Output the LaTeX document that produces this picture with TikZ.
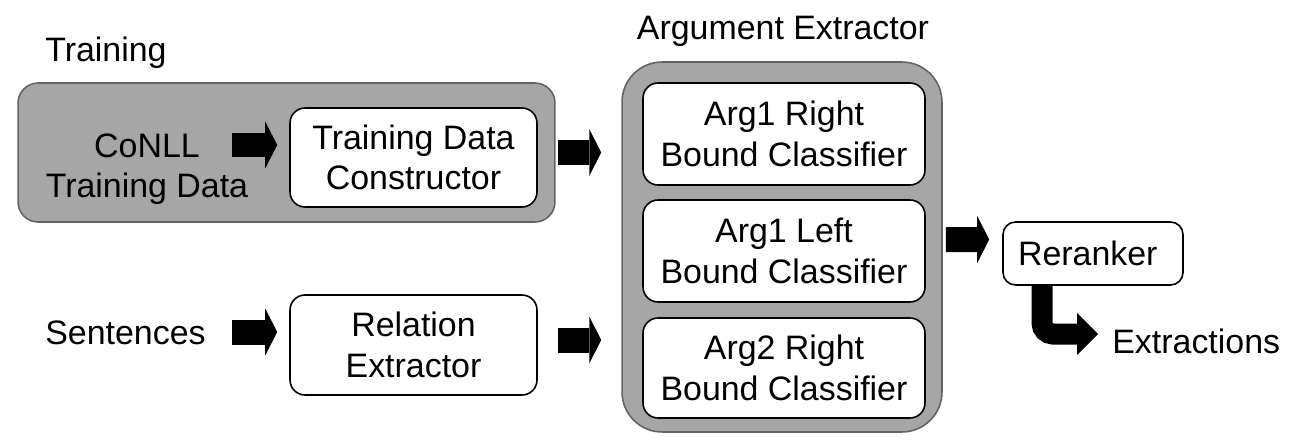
\documentclass[tikz,border=0pt]{standalone}
\usepackage{fontspec}
\setmainfont{Liberation Sans}
\usetikzlibrary{arrows.meta,calc}
\definecolor{boxgray}{RGB}{166,166,166}
\definecolor{edgegray}{RGB}{100,100,100}
\begin{document}
\begin{tikzpicture}[x=0.02cm,y=-0.02cm,
  every node/.style={font=\fontsize{19.3}{23}\selectfont, inner sep=0pt},
  group/.style={draw=edgegray, fill=boxgray, line width=0.9pt},
  wbox/.style={draw=black, fill=white, line width=0.9pt, rounded corners=0.3cm, align=center},
  lbl/.style={align=center},
  barrow/.style={line width=0.5cm, -{Triangle[length=0.24cm,width=0.94cm,line width=0pt]}},
  carrow/.style={line width=0.42cm, rounded corners=0.22cm, -{Triangle[length=0.42cm,width=0.84cm,line width=0pt]}}
]
\useasboundingbox (0,0) rectangle (1290,446);

% Training group
\node[anchor=base west] (trainlbl) at (45,62) {Training};
\node[group, rounded corners=0.4cm, minimum width=10.74cm, minimum height=2.78cm] (trainbox) at (286.5,152.5) {};
\node[lbl] (conll) at (147,169) {CoNLL\\Training Data};
\node[wbox, minimum width=4.94cm, minimum height=1.98cm] (tdc) at (413.5,157.5) {Training Data\\Constructor};

% Sentences row
\node[anchor=base west] (sent) at (45,344) {Sentences};
\node[wbox, minimum width=4.94cm, minimum height=2cm] (rel) at (413.5,345) {Relation\\Extractor};

% Argument extractor
\node[anchor=base] (aelbl) at (783,40) {Argument Extractor};
\node[group, rounded corners=0.8cm, minimum width=6.4cm, minimum height=7.4cm] (ae) at (782,247) {};
\node[wbox, minimum width=5.64cm, minimum height=2.04cm] (b1) at (784,134) {Arg1 Right\\Bound Classifier};
\node[wbox, minimum width=5.64cm, minimum height=2.04cm] (b2) at (784,251) {Arg1 Left\\Bound Classifier};
\node[wbox, minimum width=5.64cm, minimum height=2cm] (b3) at (784,368) {Arg2 Right\\Bound Classifier};

% Reranker and output
\node[draw=black, fill=white, line width=0.9pt, rounded corners=0.25cm, minimum width=3.6cm, minimum height=1.26cm, text width=3.0cm, inner xsep=0.3cm, align=left] (rr) at (1093,253.5) {Reranker};
\node[anchor=west] (ext) at (1112,341) {Extractions};

% Block arrows
\draw[barrow] ($(tdc.west)+(-57,-12.5)$) -- ($(tdc.west)+(-12,-12.5)$);
\draw[barrow] ($(trainbox.east)+(2,0)$) -- ($(ae.west |- trainbox.east)+(-20,0)$);
\draw[barrow] ($(rel.west)+(-57,-13)$) -- ($(rel.west)+(-12,-13)$);
\draw[barrow] ($(rel.east)+(20,-5)$) -- ($(ae.west |- rel.east)+(-20,-5)$);
\draw[barrow] ($(ae.east)+(3,-7.5)$) -- ($(rr.west)+(-13,-14)$);
\draw[carrow] ($(rr.south)+(-51,0)$) |- ($(ext.west)+(-14,-7)$);
\end{tikzpicture}
\end{document}
